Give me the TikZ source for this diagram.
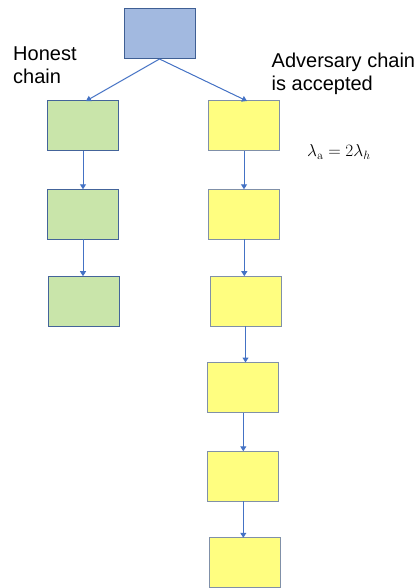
\documentclass[tikz,border=0pt]{standalone}
\usepackage[no-math]{fontspec}
\setmainfont{Liberation Sans}
\usetikzlibrary{arrows.meta}
\definecolor{topfill}{HTML}{A2B9E0}
\definecolor{topdraw}{HTML}{3F5F94}
\definecolor{greenfill}{HTML}{C9E5AA}
\definecolor{greendraw}{HTML}{44649A}
\definecolor{yellowfill}{HTML}{FFFE80}
\definecolor{yellowdraw}{HTML}{8090A8}
\definecolor{arrowcol}{HTML}{4472C4}
\tikzset{
  blk/.style={draw, line width=1pt, minimum width=71pt, minimum height=50pt, inner sep=0pt, outer sep=0pt},
  topblk/.style={blk, fill=topfill, draw=topdraw},
  greenblk/.style={blk, fill=greenfill, draw=greendraw},
  yellowblk/.style={blk, fill=yellowfill, draw=yellowdraw},
  link/.style={draw=arrowcol, line width=1pt, -{Triangle[width=6pt,length=5pt]}},
  lbl/.style={font=\fontsize{20}{23.3}\selectfont, align=left, inner sep=0pt, anchor=north west}
}
\begin{document}
\begin{tikzpicture}[x=1pt,y=-1pt]
\useasboundingbox (0,0) rectangle (418,588);
\node[topblk] (top) at (159.5,34) {};
\node[greenblk] (g1) at (83,126) {};
\node[greenblk] (g2) at (83,214.3) {};
\node[greenblk] (g3) at (84,301.2) {};
\node[yellowblk] (y1) at (244,126) {};
\node[yellowblk] (y2) at (244.3,214.3) {};
\node[yellowblk] (y3) at (245.5,301.2) {};
\node[yellowblk] (y4) at (243.3,387.5) {};
\node[yellowblk] (y5) at (243.3,476.3) {};
\node[yellowblk] (y6) at (244.5,562.8) {};
\coordinate (gt) at (86,101);
\coordinate (yt) at (247,101);
\draw[link] (top.south) -- (gt);
\draw[link] (top.south) -- (yt);
\draw[link] (g1.south) -- (g1.south |- g2.north);
\draw[link] (g2.south) -- (g2.south |- g3.north);
\draw[link] (y1.south) -- (y1.south |- y2.north);
\draw[link] (y2.south) -- (y2.south |- y3.north);
\draw[link] (y3.south) -- (y3.south |- y4.north);
\draw[link] (y4.south) -- (y4.south |- y5.north);
\draw[link] (y5.south) -- (y5.south |- y6.north);
\node[lbl] (honest) at (13,46.5) {Honest\\chain};
\node[lbl] (adv) at (271.5,52.5) {Adversary chain\\is accepted};
\node[anchor=base west, inner sep=0pt, font=\fontsize{18}{21}\selectfont] (lam) at (307,156.5) {$\lambda_{\mathrm{a}} = 2\lambda_h$};
\end{tikzpicture}
\end{document}
